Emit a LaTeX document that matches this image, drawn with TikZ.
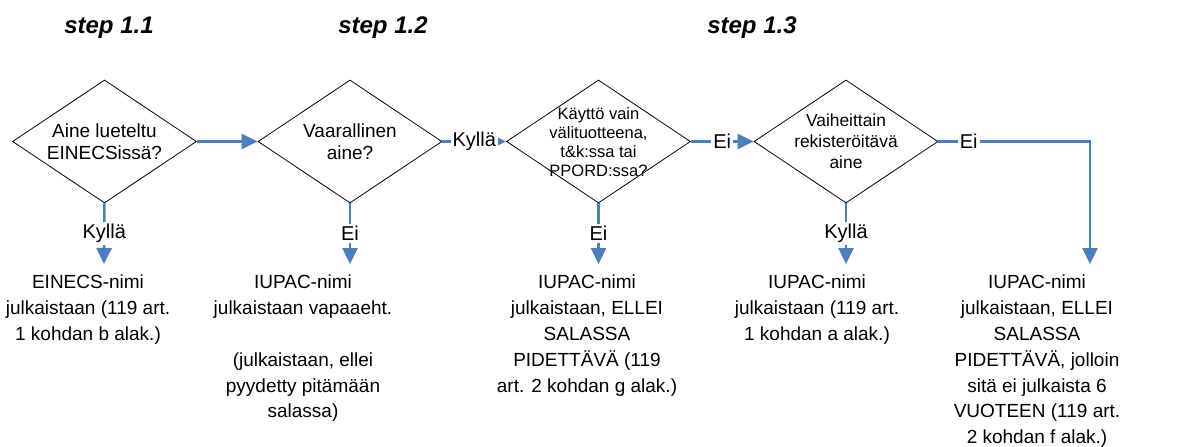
\documentclass[tikz,border=0pt]{standalone}
\usepackage{fontspec}
\setmainfont{Liberation Sans}
\usetikzlibrary{arrows.meta,shapes.geometric}
\definecolor{conblue}{RGB}{74,126,193}
\tikzset{
  dec/.style={diamond, draw=black, line width=0.8pt, minimum width=184pt, minimum height=123pt, inner sep=0pt},
  dtext/.style={align=center, inner sep=0pt},
  conn/.style={draw=conblue, line width=2.5pt, -{Triangle[length=16pt,width=15pt]}},
  lbl/.style={fill=white, inner sep=2pt, font=\fontsize{20}{24}\selectfont, text=black},
  result/.style={align=center, anchor=north, inner sep=0pt, font=\fontsize{19}{25.8}\selectfont},
  steptitle/.style={font=\fontsize{24}{28}\selectfont\bfseries\itshape}
}
\begin{document}
\begin{tikzpicture}[x=1pt,y=-1pt]
\useasboundingbox (0,0) rectangle (1187,447);

\node[steptitle] (s1) at (109,28) {step 1.1};
\node[steptitle] (s2) at (383,28) {step 1.2};
\node[steptitle] (s3) at (752,28) {step 1.3};

\node[dec] (d1) at (104.5,141.5) {};
\node[dec] (d2) at (350,141.5) {};
\node[dec] (d3) at (598.5,141.5) {};
\node[dec] (d4) at (846,141.5) {};

\node[dtext, font=\fontsize{19}{22}\selectfont] (t1) at (104.5,141.5) {Aine lueteltu\\EINECSissä?};
\node[dtext, font=\fontsize{19}{22}\selectfont] (t2) at (350,141.5) {Vaarallinen\\aine?};
\node[dtext, font=\fontsize{16.5}{19}\selectfont] (t3) at (598.5,142) {Käyttö vain\\välituotteena,\\t\&k:ssa tai\\PPORD:ssa?};
\node[dtext, font=\fontsize{17.4}{21}\selectfont] (t4) at (846,141.5) {Vaiheittain\\rekisteröitävä\\aine};

\coordinate (a1) at (104,264);
\coordinate (a2) at (350,264);
\coordinate (a3) at (598.5,264);
\coordinate (a4) at (846,264);
\coordinate (a5) at (1090,264);

\draw[conn] (d1.east) -- (d2.west);
\draw[conn] (d2.east) -- node[lbl] {Kyllä} (d3.west);
\draw[conn] (d3.east) -- node[lbl] {Ei} (d4.west);
\draw[conn] (d4.east) -| node[lbl, pos=0.1] {Ei} (a5);

\draw[conn] (d1.south) -- node[lbl] {Kyllä} (a1);
\draw[conn] (d2.south) -- node[lbl] {Ei} (a2);
\draw[conn] (d3.south) -- node[lbl] {Ei} (a3);
\draw[conn] (d4.south) -- node[lbl] {Kyllä} (a4);

\node[result] (r1) at (88,275) {EINECS-nimi\\julkaistaan (119 art.\\1 kohdan b alak.)};
\node[result] (r2) at (303,275) {IUPAC-nimi\\julkaistaan vapaaeht.\\ \\(julkaistaan, ellei\\pyydetty pitämään\\salassa)};
\node[result] (r3) at (587,275) {IUPAC-nimi\\julkaistaan, ELLEI\\SALASSA\\PIDETTÄVÄ (119\\art. 2 kohdan g alak.)};
\node[result] (r4) at (817,275) {IUPAC-nimi\\julkaistaan (119 art.\\1 kohdan a alak.)};
\node[result] (r5) at (1037,275) {IUPAC-nimi\\julkaistaan, ELLEI\\SALASSA\\PIDETTÄVÄ, jolloin\\sitä ei julkaista 6\\VUOTEEN (119 art.\\2 kohdan f alak.)};
\end{tikzpicture}
\end{document}
